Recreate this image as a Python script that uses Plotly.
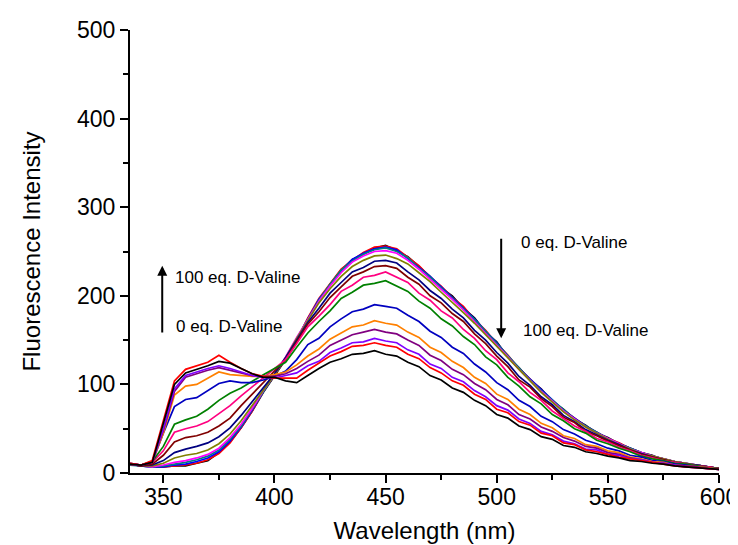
import plotly.graph_objects as go

wavelength = list(range(335, 601, 5))

eq_labels = ["0 eq", "1", "2", "3", "4", "5", "6", "7", "8", "9", "10", "11", "12", "13", "14", "100 eq"]

colors = ["#000000", "#ff0000", "#0000ff", "#008080", "#ff00ff", "#808000", "#000080", "#800000",
          "#ff0080", "#008000", "#0000c0", "#ff8000", "#800080", "#8000ff", "#ff0000", "#000000"]

s00 = [10, 8, 7, 7, 8, 8, 11, 14, 23, 35, 51, 70, 91, 110, 128, 150, 174, 195, 213, 229, 241, 247, 254, 257, 251, 244, 233, 222, 209, 200, 186, 175, 159, 148, 131, 119, 105, 95, 81, 72, 61, 54, 45, 40, 33, 28, 23, 20, 15, 13, 10, 9, 7, 5]
s01 = [11, 9, 8, 7, 8, 9, 11, 15, 22, 34, 51, 70, 92, 110, 129, 150, 175, 197, 214, 230, 240, 249, 255, 256, 253, 243, 234, 221, 211, 198, 188, 173, 161, 146, 133, 118, 106, 93, 82, 71, 62, 53, 46, 39, 34, 28, 23, 19, 16, 13, 11, 8, 7, 5]
s02 = [10, 8, 7, 7, 9, 10, 13, 17, 24, 36, 52, 71, 92, 111, 130, 151, 173, 196, 212, 228, 241, 248, 253, 255, 252, 242, 232, 222, 210, 198, 187, 174, 160, 147, 132, 118, 106, 94, 82, 71, 62, 53, 46, 39, 33, 28, 23, 19, 16, 13, 11, 9, 7, 5]
s03 = [9, 8, 7, 8, 10, 12, 15, 19, 26, 38, 53, 72, 92, 111, 130, 152, 174, 195, 213, 229, 239, 247, 252, 254, 250, 243, 231, 221, 209, 197, 186, 173, 160, 146, 132, 118, 105, 93, 82, 71, 61, 53, 46, 39, 33, 28, 23, 19, 16, 13, 11, 9, 7, 5]
s04 = [10, 8, 7, 9, 12, 14, 17, 21, 28, 40, 55, 73, 93, 111, 131, 153, 173, 194, 211, 226, 238, 245, 250, 251, 248, 240, 230, 219, 207, 196, 184, 171, 158, 145, 131, 117, 104, 92, 81, 70, 61, 52, 45, 39, 33, 27, 23, 19, 16, 13, 11, 9, 7, 5]
s05 = [10, 8, 8, 11, 17, 20, 22, 26, 33, 44, 59, 76, 94, 111, 130, 152, 172, 192, 208, 222, 233, 240, 245, 246, 242, 236, 226, 216, 204, 193, 181, 169, 156, 143, 129, 116, 103, 91, 80, 69, 60, 52, 45, 38, 32, 27, 22, 19, 16, 13, 11, 9, 7, 5]
s06 = [10, 8, 9, 14, 23, 27, 30, 34, 41, 51, 65, 81, 97, 112, 130, 150, 170, 186, 203, 215, 227, 232, 239, 240, 237, 227, 218, 206, 197, 185, 175, 161, 150, 136, 124, 109, 99, 86, 77, 65, 58, 49, 43, 37, 32, 26, 22, 18, 15, 12, 10, 9, 7, 5]
s07 = [10, 8, 10, 20, 35, 40, 42, 46, 53, 62, 76, 89, 101, 114, 128, 148, 168, 182, 198, 210, 222, 227, 233, 234, 231, 221, 213, 200, 192, 180, 171, 157, 146, 132, 120, 105, 97, 84, 75, 63, 57, 47, 42, 36, 31, 26, 21, 18, 15, 12, 10, 8, 7, 5]
s08 = [10, 9, 12, 25, 46, 50, 53, 58, 67, 76, 87, 97, 107, 117, 128, 146, 165, 177, 190, 205, 212, 221, 223, 227, 221, 215, 203, 195, 183, 175, 162, 152, 138, 128, 113, 103, 91, 82, 70, 62, 53, 47, 39, 35, 29, 25, 20, 17, 14, 12, 10, 8, 7, 5]
s09 = [10, 9, 13, 30, 55, 60, 64, 72, 82, 90, 96, 104, 111, 118, 125, 142, 158, 171, 183, 197, 204, 212, 214, 217, 211, 205, 194, 186, 174, 166, 154, 145, 131, 122, 108, 98, 86, 78, 66, 59, 50, 45, 37, 33, 28, 24, 19, 16, 14, 11, 10, 8, 6, 5]
s10 = [11, 9, 12, 45, 75, 83, 85, 93, 101, 104, 102, 102, 105, 109, 115, 128, 145, 152, 165, 174, 182, 185, 190, 188, 186, 178, 171, 160, 153, 142, 135, 123, 114, 102, 94, 82, 75, 64, 58, 49, 44, 37, 33, 28, 25, 20, 18, 14, 13, 10, 9, 7, 6, 4]
s11 = [10, 9, 13, 45, 88, 98, 100, 107, 114, 111, 110, 109, 109, 111, 114, 122, 132, 140, 151, 158, 165, 167, 172, 169, 167, 159, 153, 142, 136, 126, 119, 108, 101, 89, 83, 72, 66, 56, 51, 42, 39, 32, 30, 25, 23, 18, 16, 13, 12, 9, 8, 7, 6, 4]
s12 = [10, 9, 13, 48, 92, 108, 112, 116, 119, 116, 113, 110, 109, 109, 112, 118, 126, 133, 144, 150, 156, 159, 162, 159, 157, 150, 144, 133, 127, 117, 111, 101, 94, 83, 77, 66, 61, 52, 47, 40, 36, 30, 28, 23, 21, 17, 15, 12, 11, 9, 8, 7, 5, 4]
s13 = [10, 9, 13, 50, 95, 110, 114, 118, 121, 118, 114, 110, 108, 107, 110, 113, 121, 126, 136, 141, 147, 148, 152, 149, 147, 139, 134, 123, 118, 108, 103, 93, 86, 76, 71, 61, 56, 47, 43, 36, 33, 27, 26, 21, 20, 16, 15, 12, 11, 9, 7, 6, 5, 4]
s14 = [11, 9, 14, 58, 104, 117, 121, 125, 133, 125, 118, 112, 109, 107, 107, 107, 116, 124, 132, 137, 143, 144, 147, 144, 142, 134, 129, 119, 113, 104, 99, 89, 83, 72, 68, 58, 54, 45, 42, 34, 32, 26, 24, 21, 18, 16, 14, 12, 10, 8, 7, 6, 5, 4]
s15 = [10, 9, 12, 55, 100, 113, 117, 121, 126, 124, 118, 112, 108, 108, 104, 102, 110, 118, 125, 129, 134, 135, 138, 134, 132, 125, 120, 110, 105, 96, 91, 82, 76, 66, 62, 53, 49, 41, 38, 31, 29, 24, 22, 19, 17, 14, 13, 11, 10, 8, 7, 6, 5, 4]

series = [s00, s01, s02, s03, s04, s05, s06, s07, s08, s09, s10, s11, s12, s13, s14, s15]

x_ticks = [350, 400, 450, 500, 550, 600]
y_ticks = [0, 100, 200, 300, 400, 500]

FONT = "Liberation Sans, Arial, sans-serif"

fig = go.Figure()
for name, col, ys in zip(eq_labels, colors, series):
    fig.add_trace(go.Scatter(x=wavelength, y=ys, mode="lines", name=name,
                             line=dict(color=col, width=1.7), showlegend=False))

axis_common = dict(showline=True, linecolor="black", linewidth=2, ticks="outside",
                   tickwidth=2, ticklen=8, tickcolor="black", showgrid=False, zeroline=False,
                   tickfont=dict(family=FONT, size=23, color="black"), mirror=False)

fig.update_xaxes(range=[335, 600], tickvals=x_ticks,
                 minor=dict(ticks="outside", ticklen=5, tickwidth=2, tickcolor="black", dtick=25, tick0=350),
                 title=dict(text="Wavelength (nm)", font=dict(family=FONT, size=24, color="black"), standoff=14),
                 ticklabelstandoff=-6, **axis_common)
fig.update_yaxes(range=[0, 500], tickvals=y_ticks,
                 minor=dict(ticks="outside", ticklen=5, tickwidth=2, tickcolor="black", dtick=50, tick0=0),
                 title=dict(text="Fluorescence Intensity", font=dict(family=FONT, size=24, color="black"), standoff=30),
                 **axis_common)

ann_font = dict(family=FONT, size=17, color="black")
fig.add_annotation(x=349.5, y=234, ax=349.5, ay=157, xref="x", yref="y", axref="x", ayref="y",
                   text="", showarrow=True, arrowhead=2, arrowsize=1, arrowwidth=2, arrowcolor="black")
fig.add_annotation(x=502, y=152, ax=502, ay=266, xref="x", yref="y", axref="x", ayref="y",
                   text="", showarrow=True, arrowhead=2, arrowsize=1, arrowwidth=2, arrowcolor="black")
fig.add_annotation(x=354.5, y=221, text="100 eq. D-Valine", showarrow=False, xanchor="left", yanchor="middle", font=ann_font)
fig.add_annotation(x=355, y=165, text="0 eq. D-Valine", showarrow=False, xanchor="left", yanchor="middle", font=ann_font)
fig.add_annotation(x=510, y=260, text="0 eq. D-Valine", showarrow=False, xanchor="left", yanchor="middle", font=ann_font)
fig.add_annotation(x=511, y=161, text="100 eq. D-Valine", showarrow=False, xanchor="left", yanchor="middle", font=ann_font)

fig.update_layout(width=738, height=545, margin=dict(l=122, r=27, t=22, b=80, autoexpand=False),
                  paper_bgcolor="white", plot_bgcolor="white", font=dict(family=FONT, color="black"))

fig.write_html("out.html")
